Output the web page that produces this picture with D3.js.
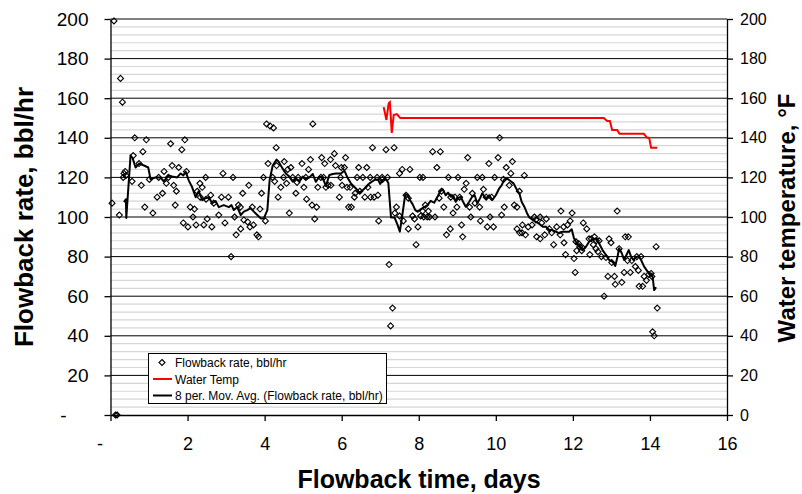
<!DOCTYPE html>
<html>
<head>
<meta charset="utf-8">
<script src="https://cdn.jsdelivr.net/npm/d3@7"></script>
<style>
  body { margin: 0; background: #fff; }
  text { font-family: Arial, "Liberation Sans", sans-serif; fill: #000; }
</style>
</head>
<body>
<svg id="chart" width="802" height="494"></svg>
<script>
// Flowback rate readings (days since start, bbl/hr)
const flowDays = [
  0.04,0.09,0.13,0.17,0.23,0.26,0.31,0.33,0.35,0.38,0.40,0.56,0.59,0.63,0.74,0.80,0.84,0.89,0.93,
  1.01,1.10,1.21,1.25,1.35,1.39,1.45,1.50,1.56,1.60,1.64,1.68,1.71,1.77,1.85,1.89,1.93,1.97,
  2.01,2.07,2.14,2.18,2.22,2.25,2.32,2.33,2.38,2.42,2.47,2.48,2.51,2.60,2.63,2.68,2.81,2.88,2.92,2.97,
  3.06,3.13,3.18,3.22,3.26,3.32,3.37,3.38,3.43,3.46,3.56,3.59,3.62,3.68,3.71,3.80,3.84,3.88,3.92,3.97,
  4.02,4.05,4.09,4.14,4.21,4.23,4.26,4.30,4.31,4.35,4.42,4.49,4.51,4.57,4.60,4.64,4.68,4.73,4.81,4.84,4.87,4.97,
  5.02,5.07,5.09,5.14,5.19,5.23,5.25,5.30,5.35,5.38,5.46,5.48,5.53,5.56,5.59,5.65,5.71,5.72,5.81,5.84,5.94,5.97,5.99,
  6.01,6.07,6.10,6.14,6.18,6.22,6.25,6.33,6.35,6.40,6.44,6.47,6.55,6.60,6.65,6.68,6.74,6.75,6.80,6.84,6.92,6.94,6.96,
  7.05,7.06,7.15,7.19,7.23,7.27,7.32,7.36,7.38,7.42,7.50,7.50,7.57,7.60,7.67,7.73,7.73,7.77,7.84,7.89,7.93,7.98,
  8.03,8.05,8.10,8.11,8.13,8.17,8.22,8.25,8.28,8.36,8.42,8.47,8.53,8.56,8.59,8.65,8.72,8.77,8.82,8.83,8.89,8.94,8.99,
  9.02,9.06,9.11,9.14,9.18,9.23,9.27,9.32,9.35,9.39,9.46,9.52,9.58,9.60,9.65,9.68,9.75,9.78,9.82,9.85,9.89,9.94,9.97,
  10.06,10.10,10.15,10.20,10.22,10.27,10.35,10.39,10.43,10.48,10.55,10.55,10.61,10.62,10.68,10.69,10.74,10.77,10.84,10.94,
  11.00,11.04,11.06,11.15,11.15,11.19,11.27,11.31,11.39,11.45,11.50,11.58,11.67,11.69,11.76,11.77,11.81,11.86,11.93,11.98,
  12.03,12.06,12.08,12.10,12.15,12.18,12.23,12.25,12.27,12.36,12.42,12.44,12.48,12.53,12.56,12.60,12.61,12.65,12.68,12.74,
  12.81,12.86,12.91,12.94,12.99,13.01,13.08,13.10,13.15,13.20,13.27,13.33,13.36,13.42,13.44,13.49,13.53,13.62,13.66,13.70,
  13.72,13.77,13.81,13.85,13.91,13.97,14.03,14.05,14.07,14.11,14.16,14.19
];
const flowRates = [
  107,199,0,0,101,170,158,120,122,123,121,118,131,140,127,116,133,105,139,
  119,102,110,120,112,123,117,120,137,126,116,106,113,125,134,97,139,123,
  95,105,100,104,96,113,117,110,115,96,120,109,99,111,95,107,101,110,122,97,
  110,80,120,100,91,106,105,94,112,98.5,97.5,116,95,105,96,91,90,104,112,120,
  98,147,127,146,120,145,118,135,126,110,115,120,128,117,124,102,125,120,112,117.5,120,127,
  115,120,109,124,129,106,147,99,105,115,120,130,120,127,115,116,129,116,132,126,110,120,125,
  116,125,130,115,105,115,105,110,112,120,125,113,120,110,125,115,120,110,135,110,120,111,98,
  120,119,134,120,76,45,54,135,102,105,122,100.5,124,98,111,109.5,94,124,100.5,99,86,95,
  120,100.5,103,120,100,106,100,103,100,133,100,125,109.5,133,113,105,91,120,94,110,102,110,105,
  120,110,96,90,114,117,130,105,100,112,107,120,105,98,120,114,110,95,127,100,110,95,120,
  130,140,101,119,105,125,116,122,128,106,105,94,113,92,92,96,121,91,95,96,
  100,98.5,90,100,89,97,91,99,94,92,86,95,91,103,95,87,81,96,98,102,
  79,72,87.5,83,86.5,85,83,84.5,97,94,89,81,89,86,90,84,88,82.5,88,80,
  60,79.5,70,89,87,77,70,66,103,84,67,72,90,78,90,72,78,75,80,73,
  65,80,65,70,68,71,71.5,70,42,40,85,54
];

// Water temperature trace (days, °F)
const tempDays   = [7.09,7.16,7.22,7.25,7.30,7.35,7.43,7.52,12.80,12.89,12.96,13.02,13.15,13.21,13.84,13.93,13.98,14.03,14.19];
const tempValues = [155.5,149,157.5,158,142.5,151.5,152,150,150,148.5,148.5,144,144,142,142,140,140,135,135];

// 8-period moving average of the flowback rate
const maDays = [
  0.35,0.40,0.41,0.52,0.57,0.65,0.74,0.87,0.98,1.04,1.17,1.30,1.38,1.51,1.60,1.73,1.82,1.89,1.95,
  2.03,2.12,2.21,2.29,2.38,2.47,2.55,2.64,2.73,2.81,2.94,3.07,3.14,3.20,3.29,3.38,3.46,3.55,3.64,3.72,3.81,3.90,3.98,
  4.07,4.13,4.21,4.31,4.36,4.42,4.49,4.55,4.64,4.73,4.81,4.90,4.99,5.07,5.16,5.25,5.33,5.42,5.50,5.59,5.68,5.77,5.85,
  5.98,6.07,6.16,6.24,6.37,6.46,6.55,6.63,6.72,6.85,6.94,7.00,7.06,7.15,7.21,7.28,7.37,7.45,7.51,7.58,7.65,7.71,7.77,
  7.84,7.91,7.97,8.06,8.14,8.23,8.31,8.40,8.49,8.55,8.62,8.70,8.76,8.83,8.89,8.96,9.02,9.09,9.15,9.22,9.31,9.39,9.45,
  9.52,9.59,9.65,9.74,9.83,9.91,10.00,10.09,10.15,10.22,10.29,10.37,10.46,10.55,10.61,10.67,10.74,10.81,10.87,10.96,
  11.04,11.13,11.22,11.30,11.39,11.47,11.56,11.64,11.73,11.82,11.90,11.97,12.03,12.10,12.16,12.25,12.34,12.42,12.51,
  12.60,12.68,12.77,12.86,12.94,13.03,13.10,13.16,13.20,13.27,13.33,13.39,13.45,13.51,13.57,13.64,13.71,13.77,13.85,
  13.94,14.03,14.07,14.11,14.16
];
const maRates = [
  107.5,109,99.5,131,130,125,127,126,125,119,120,120,118,121,120.5,120,122,121,123,
  118.5,115,110,113,108.5,109.5,110,107,108,105,106,105,106,103.5,105,101,102.7,103.5,104.5,102.7,101,99.3,99.3,
  103.5,118.7,126,129,128,126,123.7,122,120.4,117.8,119.5,117.8,120.4,119,120,121.7,117.8,120.4,120,115.7,121.2,121.7,122,
  122,123.4,119.5,117,114.4,112.3,113.6,115,117,118.7,119,116.7,118.7,119,117.3,99.8,99.8,96,92.6,101.8,111.6,111,108.6,
  106.5,103.5,102.7,104,105,106,108.2,107.2,110.3,112.8,114,111,112.3,110.3,111,107.7,109.4,110.3,107.7,105.2,107.7,110.3,111,
  106.9,109.4,112,109.4,111,108.6,111,114.5,116,119,119.5,118.3,117,113.6,112,107.7,105.2,101.9,99.8,98.5,
  97.6,96.5,95.1,95.1,93.4,93.4,92.6,91.8,92.6,92.6,92.6,93.8,89.2,86.7,85.9,83.3,85,87.5,88.7,
  89.2,86.7,83.3,80.8,78.3,77.4,75.3,80,84.2,81.7,78.3,80.8,83.3,80,78.3,79.6,80.3,78.3,74.9,
  72.4,70.7,69.8,63.1,64.5
];

// Axis ticks and their printed labels
const xTicks = [0, 2, 4, 6, 8, 10, 12, 14, 16];
const xTickLabels = ["-", "2", "4", "6", "8", "10", "12", "14", "16"];
const yTicks = [0, 20, 40, 60, 80, 100, 120, 140, 160, 180, 200];
const yLeftLabels = ["-", "20", "40", "60", "80", "100", "120", "140", "160", "180", "200"];
const yRightLabels = ["0", "20", "40", "60", "80", "100", "120", "140", "160", "180", "200"];

const svg = d3.select("#chart");
const plot = { left: 110.5, right: 727, top: 19, bottom: 415 };

const x = d3.scaleLinear().domain([0, 16]).range([plot.left, plot.right]);
const y = d3.scaleLinear().domain([0, 200]).range([plot.bottom, plot.top]);

// Minor gridlines every 4 units
const minor = d3.range(4, 200, 4).filter(v => v % 20 !== 0);
svg.append("g").selectAll("line").data(minor).join("line")
  .attr("x1", plot.left).attr("x2", plot.right)
  .attr("y1", d => y(d)).attr("y2", d => y(d))
  .attr("stroke", "#d6d6d6").attr("stroke-width", 1.2);

// Major gridlines every 20 units
svg.append("g").selectAll("line").data(yTicks.filter(v => v > 0)).join("line")
  .attr("x1", plot.left).attr("x2", plot.right)
  .attr("y1", d => y(d)).attr("y2", d => y(d))
  .attr("stroke", "#000").attr("stroke-width", 1);

// Axes
const leftAxis = svg.append("g").attr("transform", `translate(${plot.left},0)`)
  .call(d3.axisLeft(y).tickValues(yTicks).tickSize(6).tickSizeOuter(0).tickPadding(16)
    .tickFormat((d, i) => yLeftLabels[i]));
leftAxis.selectAll("text").style("font-size", "19px");
leftAxis.selectAll(".tick").filter(d => d === 0).select("text").attr("x", -44);

const rightAxis = svg.append("g").attr("transform", `translate(${plot.right},0)`)
  .call(d3.axisRight(y).tickValues(yTicks).tickSize(6).tickSizeOuter(0).tickPadding(7)
    .tickFormat((d, i) => yRightLabels[i]));
rightAxis.selectAll("text").style("font-size", "16px");

const bottomAxis = svg.append("g").attr("transform", `translate(0,${plot.bottom})`)
  .call(d3.axisBottom(x).tickValues(xTicks).tickSize(6).tickSizeOuter(0).tickPadding(16)
    .tickFormat((d, i) => xTickLabels[i]));
bottomAxis.selectAll("text").style("font-size", "18px");
bottomAxis.selectAll(".tick").filter(d => d === 0).select("text").attr("x", -11);

svg.selectAll(".domain, .tick line").attr("stroke", "#000").attr("stroke-width", 1.3);

// Flowback rate markers (hollow diamonds)
const diamond = "M0,-3L3,0L0,3L-3,0Z";
svg.append("g").selectAll("path").data(flowDays.map((d, i) => [d, flowRates[i]])).join("path")
  .attr("d", diamond)
  .attr("transform", d => `translate(${x(d[0])},${y(d[1])})`)
  .attr("fill", "none").attr("stroke", "#000").attr("stroke-width", 1.1);

// Water temperature line
svg.append("path")
  .datum(tempDays.map((d, i) => [d, tempValues[i]]))
  .attr("d", d3.line().x(d => x(d[0])).y(d => y(d[1])))
  .attr("fill", "none").attr("stroke", "#ff0000").attr("stroke-width", 2);

// Moving average line
svg.append("path")
  .datum(maDays.map((d, i) => [d, maRates[i]]))
  .attr("d", d3.line().x(d => x(d[0])).y(d => y(d[1])))
  .attr("fill", "none").attr("stroke", "#000").attr("stroke-width", 2).attr("stroke-linejoin", "round");

// Axis titles
svg.append("text")
  .attr("transform", "translate(33,217) rotate(-90)")
  .attr("text-anchor", "middle")
  .style("font-size", "26px").style("font-weight", "bold")
  .text("Flowback rate, bbl/hr");

svg.append("text")
  .attr("transform", "translate(795,218) rotate(-90)")
  .attr("text-anchor", "middle")
  .style("font-size", "24px").style("font-weight", "bold")
  .text("Water temperature, °F");

svg.append("text")
  .attr("x", 419).attr("y", 488)
  .attr("text-anchor", "middle")
  .style("font-size", "25px").style("font-weight", "bold")
  .text("Flowback time, days");

// Legend
const legend = svg.append("g");
legend.append("rect")
  .attr("x", 148.5).attr("y", 353.5).attr("width", 238).attr("height", 50)
  .attr("fill", "#fff").attr("stroke", "#000").attr("stroke-width", 1);
const legendItems = [
  { label: "Flowback rate, bbl/hr", kind: "marker" },
  { label: "Water Temp", kind: "line", color: "#ff0000" },
  { label: "8 per. Mov. Avg. (Flowback rate, bbl/hr)", kind: "line", color: "#000" }
];
legendItems.forEach((item, i) => {
  const cy = 362.5 + i * 16.5;
  if (item.kind === "marker") {
    legend.append("path").attr("d", diamond)
      .attr("transform", `translate(162,${cy})`)
      .attr("fill", "none").attr("stroke", "#000").attr("stroke-width", 1.1);
  } else {
    legend.append("line").attr("x1", 153).attr("x2", 172).attr("y1", cy).attr("y2", cy)
      .attr("stroke", item.color).attr("stroke-width", 2);
  }
  legend.append("text").attr("x", 175).attr("y", cy + 4.5)
    .style("font-size", "12px").text(item.label);
});
</script>
</body>
</html>
